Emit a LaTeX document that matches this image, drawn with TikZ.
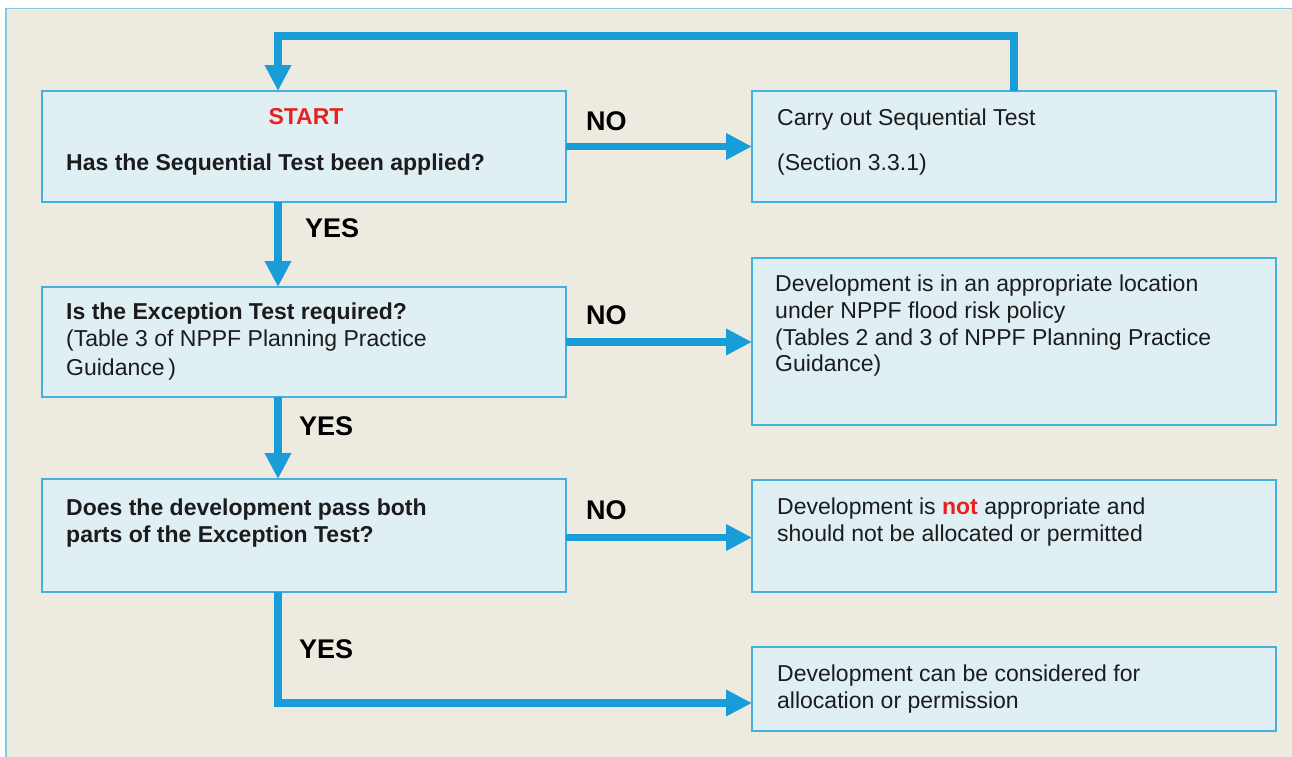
\documentclass[tikz,border=0pt]{standalone}
\usepackage{fontspec}
\setmainfont{Liberation Sans}
\usetikzlibrary{arrows.meta}
\definecolor{bgc}{HTML}{EDEAE0}
\definecolor{framec}{HTML}{86C8E2}
\definecolor{boxfill}{HTML}{DFEFF4}
\definecolor{boxline}{HTML}{45B0E0}
\definecolor{arrc}{HTML}{189DD8}
\definecolor{textc}{HTML}{1C1C1C}
\definecolor{redc}{HTML}{E8211F}
\tikzset{
  box/.style={draw=boxline, line width=2pt, fill=boxfill, rectangle, inner sep=0pt, outer sep=0pt, anchor=north west},
  txt/.style={anchor=north west, inner sep=0pt, align=left, text=textc, font=\fontsize{23}{26.8}\selectfont},
  txtb/.style={anchor=base west, inner sep=0pt, text=textc, font=\fontsize{23}{26.8}\selectfont},
  lab/.style={anchor=west, inner sep=0pt, text=black, font=\bfseries\fontsize{27}{30}\selectfont},
  flow/.style={draw=arrc, line width=7.5pt, -{Triangle[length=26pt,width=25pt]}}
}
\begin{document}
\begin{tikzpicture}[x=1pt,y=-1pt]
\useasboundingbox (0,0) rectangle (1292,756);
% background frame
\fill[white] (0,0) rectangle (1292,756);
\draw[framec, line width=1.5pt, fill=bgc] (6,8.5) rectangle (1310,780);

% boxes
\node[box, minimum width=524pt, minimum height=111pt] (b1) at (42,91) {};
\node[box, minimum width=524pt, minimum height=111pt] (b2) at (752,91) {};
\node[box, minimum width=524pt, minimum height=110pt] (b3) at (42,287) {};
\node[box, minimum width=524pt, minimum height=167pt] (b4) at (752,258) {};
\node[box, minimum width=524pt, minimum height=113pt] (b5) at (42,479) {};
\node[box, minimum width=524pt, minimum height=112pt] (b6) at (752,480) {};
\node[box, minimum width=524pt, minimum height=84pt] (b7) at (752,647) {};

% texts
\node[inner sep=0pt, text=redc, font=\bfseries\fontsize{23}{26.8}\selectfont] (t1a) at (306,117) {START};
\node[txtb, font=\bfseries\fontsize{23}{26.8}\selectfont] (t1b) at (66,170.3) {Has the Sequential Test been applied?};
\node[txtb] (t2a) at (777,125.3) {Carry out Sequential Test};
\node[txtb] (t2b) at (777,170.3) {(Section 3.3.1)};
\node[txt] (t3) at (66,302.7) {\textbf{Is the Exception Test required?}\\(Table 3 of NPPF Planning Practice\\[2pt]Guidance\,)};
\node[txt] (t4) at (775,274.7) {Development is in an appropriate location\\under NPPF flood risk policy\\(Tables 2 and 3 of NPPF Planning Practice\\Guidance)};
\node[txt, font=\bfseries\fontsize{23}{26.8}\selectfont] (t5) at (66,498.4) {Does the development pass both\\parts of the Exception Test?};
\node[txt] (t6) at (777,497.7) {Development is \textcolor{redc}{\textbf{not}} appropriate and\\should not be allocated or permitted};
\node[txt] (t7) at (777,664.4) {Development can be considered for\\allocation or permission};

% labels
\node[lab] (no1) at (586,121) {NO};
\node[lab] (no2) at (586,315) {NO};
\node[lab] (no3) at (586,510) {NO};
\node[lab] (yes1) at (305,228) {YES};
\node[lab] (yes2) at (299,426) {YES};
\node[lab] (yes3) at (299,649) {YES};

% helper coordinates
\coordinate (vx) at (278,0);
\coordinate (loopL) at (278,36);
\coordinate (loopR) at (1014,36);
\coordinate (c7) at (278,703);

% connectors
\draw[flow] (b2.north -| loopR) -- (loopR) -- (loopL) -- (b1.north -| vx);
\draw[flow] (b1.east) -- (b1.east -| b2.west);
\draw[flow] (b1.south -| vx) -- (b3.north -| vx);
\draw[flow] (b3.east) -- (b3.east -| b4.west);
\draw[flow] (b3.south -| vx) -- (b5.north -| vx);
\draw[flow] ([yshift=-2pt]b5.east) -- ([yshift=-2pt]b5.east -| b6.west);
\draw[flow] (b5.south -| vx) -- (c7) -- (c7 -| b7.west);
\end{tikzpicture}
\end{document}
